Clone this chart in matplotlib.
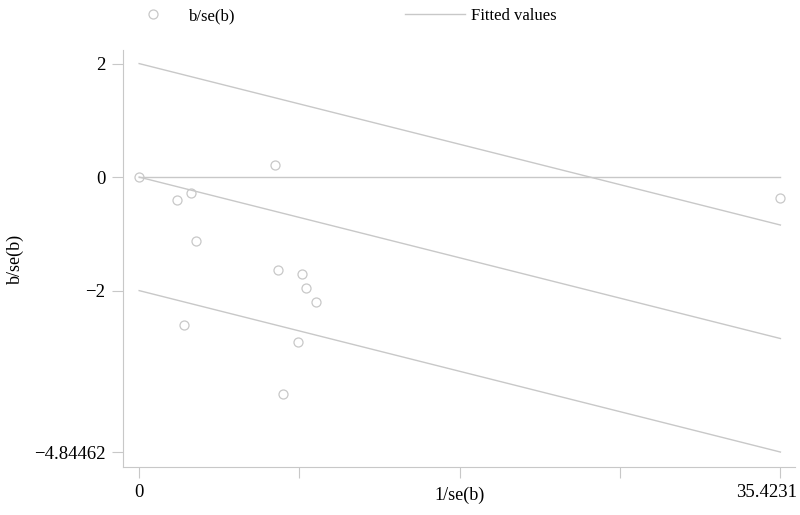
import matplotlib.pyplot as plt
from matplotlib.transforms import ScaledTranslation

## ## data (Galbraith plot)
inv_se = [0.0, 7.50, 2.87, 2.10, 3.13, 7.66, 9.01, 9.21, 9.78, 2.47, 8.80, 7.94, 35.4231]
b_se = [0.0, 0.21, -0.28, -0.41, -1.12, -1.63, -1.70, -1.95, -2.20, -2.60, -2.91, -3.83, -0.365]

## fitted lines: regression through origin and +/- 2 bands
fit_x = [0.0, 35.4231]
fit_mid = [0.0, -2.84462]
fit_upper = [2.0, -0.84462]
fit_lower = [-2.0, -4.84462]
zero_line = [0.0, 0.0]

xticks = [0, 35.4231 * 0.25, 35.4231 * 0.5, 35.4231 * 0.75, 35.4231]
xticklabels = ["0", "", "", "", "35.4231"]
yticks = [2, 0, -2, -4.84462]
yticklabels = ["2", "0", "\u22122", "\u22124.84462"]

plt.rcParams["font.family"] = ["Liberation Serif", "DejaVu Serif"]
plt.rcParams["font.size"] = 12

grey = "#c8c8c8"
fig = plt.figure(figsize=(8, 5.15), dpi=100)
ax = fig.add_axes([0.154, 0.093, 0.84, 0.81])

pts, = ax.plot(inv_se, b_se, linestyle="none", marker="o", markersize=6.5,
               markerfacecolor="none", markeredgecolor=grey, markeredgewidth=0.9,
               label="b/se(b)")
fit, = ax.plot(fit_x, fit_mid, color=grey, linewidth=1.0, label="Fitted values")
ax.plot(fit_x, fit_upper, color=grey, linewidth=1.0)
ax.plot(fit_x, fit_lower, color=grey, linewidth=1.0)
ax.plot(fit_x, zero_line, color=grey, linewidth=1.0)

ax.set_xlim(-0.88, 36.24)
ax.set_ylim(-5.11, 2.24)
ax.set_xticks(xticks)
ax.set_xticklabels(xticklabels)
ax.set_yticks(yticks)
ax.set_yticklabels(yticklabels)
ax.tick_params(direction="out", length=8, width=0.8, color=grey, labelsize=13.5)
ax.tick_params(axis="x", pad=4)
ax.tick_params(axis="y", pad=5)

# last x label sits a bit left of its tick, as in the original
last = ax.get_xticklabels()[-1]
last.set_transform(last.get_transform() + ScaledTranslation(-0.14, 0, fig.dpi_scale_trans))

for s in ["top", "right"]:
    ax.spines[s].set_visible(False)
for s in ["left", "bottom"]:
    ax.spines[s].set_color(grey)
    ax.spines[s].set_linewidth(0.8)

ax.set_xlabel("1/se(b)", fontsize=13, labelpad=-10)
ax.set_ylabel("b/se(b)", fontsize=13, labelpad=7)

fig.legend(handles=[pts, fit], loc="upper left", bbox_to_anchor=(0.145, 0.997),
           ncol=2, frameon=False, handlelength=3.6, handletextpad=0.35,
           columnspacing=10.2, borderaxespad=0, fontsize=12)

fig.savefig("out.png")
